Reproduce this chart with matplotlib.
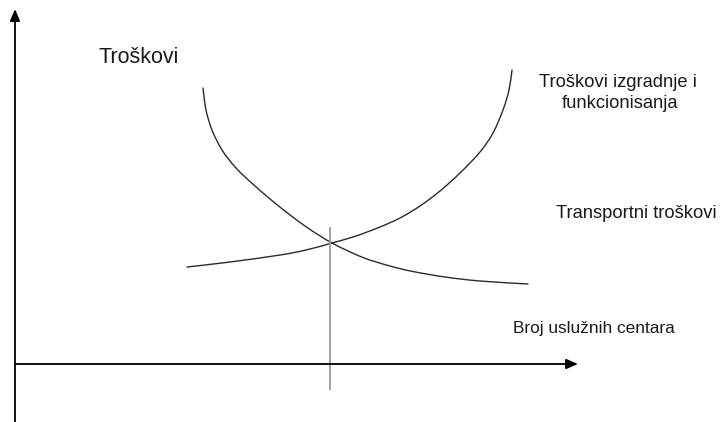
import matplotlib
matplotlib.use("Agg")
import matplotlib.pyplot as plt
from matplotlib.path import Path
from matplotlib.patches import PathPatch

plt.rcParams['font.family'] = ['Liberation Sans', 'DejaVu Sans']

# Data (arbitrary units: x = number of service centres, y = costs)
build_x = [3.44, 4.30, 5.30, 5.82, 6.34, 6.82, 7.30, 7.70, 8.10, 8.50, 8.90, 9.30,
           9.56, 9.76, 9.88, 9.94]
build_y = [3.233, 3.400, 3.633, 3.800, 4.033, 4.267, 4.567, 4.867, 5.267, 5.767,
           6.367, 7.067, 7.700, 8.467, 9.133, 9.800]
trans_x = [3.76, 3.82, 3.94, 4.14, 4.42, 4.80, 5.26, 5.80, 6.34, 6.96, 7.50, 7.96,
           8.60, 9.30, 10.26]
trans_y = [9.200, 8.467, 7.800, 7.133, 6.533, 5.933, 5.283, 4.600, 4.033, 3.550,
           3.267, 3.083, 2.900, 2.767, 2.667]
optimum_x = 6.30
optimum_span = (-0.83, 4.53)

label_cost = "Troškovi"
label_build_1 = "Troškovi izgradnje i"
label_build_2 = "funkcionisanja"
label_trans = "Transportni troškovi"
label_xaxis = "Broj uslužnih centara"

fig = plt.figure(figsize=(7.2, 4.22), dpi=100)
ax = fig.add_axes([0, 0, 1, 1])
ax.set_xlim(-0.3, 14.1)
ax.set_ylim(-1.933, 12.133)
ax.axis('off')


def smooth_path(xs, ys):
    """Catmull-Rom style cubic Bezier path through the given points."""
    pts = list(zip(xs, ys))
    n = len(pts)
    verts = [pts[0]]
    codes = [Path.MOVETO]
    for i in range(n - 1):
        p0 = pts[i - 1] if i > 0 else pts[i]
        p1 = pts[i]
        p2 = pts[i + 1]
        p3 = pts[i + 2] if i + 2 < n else pts[i + 1]
        c1 = (p1[0] + (p2[0] - p0[0]) / 6, p1[1] + (p2[1] - p0[1]) / 6)
        c2 = (p2[0] - (p3[0] - p1[0]) / 6, p2[1] - (p3[1] - p1[1]) / 6)
        verts += [c1, c2, p2]
        codes += [Path.CURVE4] * 3
    return Path(verts, codes)


for xs, ys in [(build_x, build_y), (trans_x, trans_y)]:
    ax.add_patch(PathPatch(smooth_path(xs, ys), facecolor='none',
                           edgecolor='#2b2b2b', lw=1.0, capstyle='round'))

# vertical optimum line
ax.plot([optimum_x, optimum_x], optimum_span, color='#9a9a9a', lw=1.3)

# axes with arrows
ax.annotate('', xy=(0, 11.83), xytext=(0, -1.95),
            arrowprops=dict(arrowstyle='-|>,head_length=0.7,head_width=0.3',
                            color='black', lw=1.3, shrinkA=0, shrinkB=0))
ax.annotate('', xy=(11.26, 0), xytext=(0, 0),
            arrowprops=dict(arrowstyle='-|>,head_length=0.7,head_width=0.3',
                            color='black', lw=1.3, shrinkA=0, shrinkB=0))

tc = '#1a1a1a'
ax.text(2.47, 10.23, label_cost, fontsize=15.5, ha='center', va='center', color=tc)
ax.text(12.06, 9.37, label_build_1, fontsize=13.2, ha='center', va='center', color=tc)
ax.text(12.09, 8.67, label_build_2, fontsize=13.2, ha='center', va='center', color=tc)
ax.text(12.42, 5.03, label_trans, fontsize=13.2, ha='center', va='center', color=tc)
ax.text(11.58, 1.17, label_xaxis, fontsize=12.4, ha='center', va='center', color=tc)

fig.savefig('out.png', dpi=100, facecolor='white')
